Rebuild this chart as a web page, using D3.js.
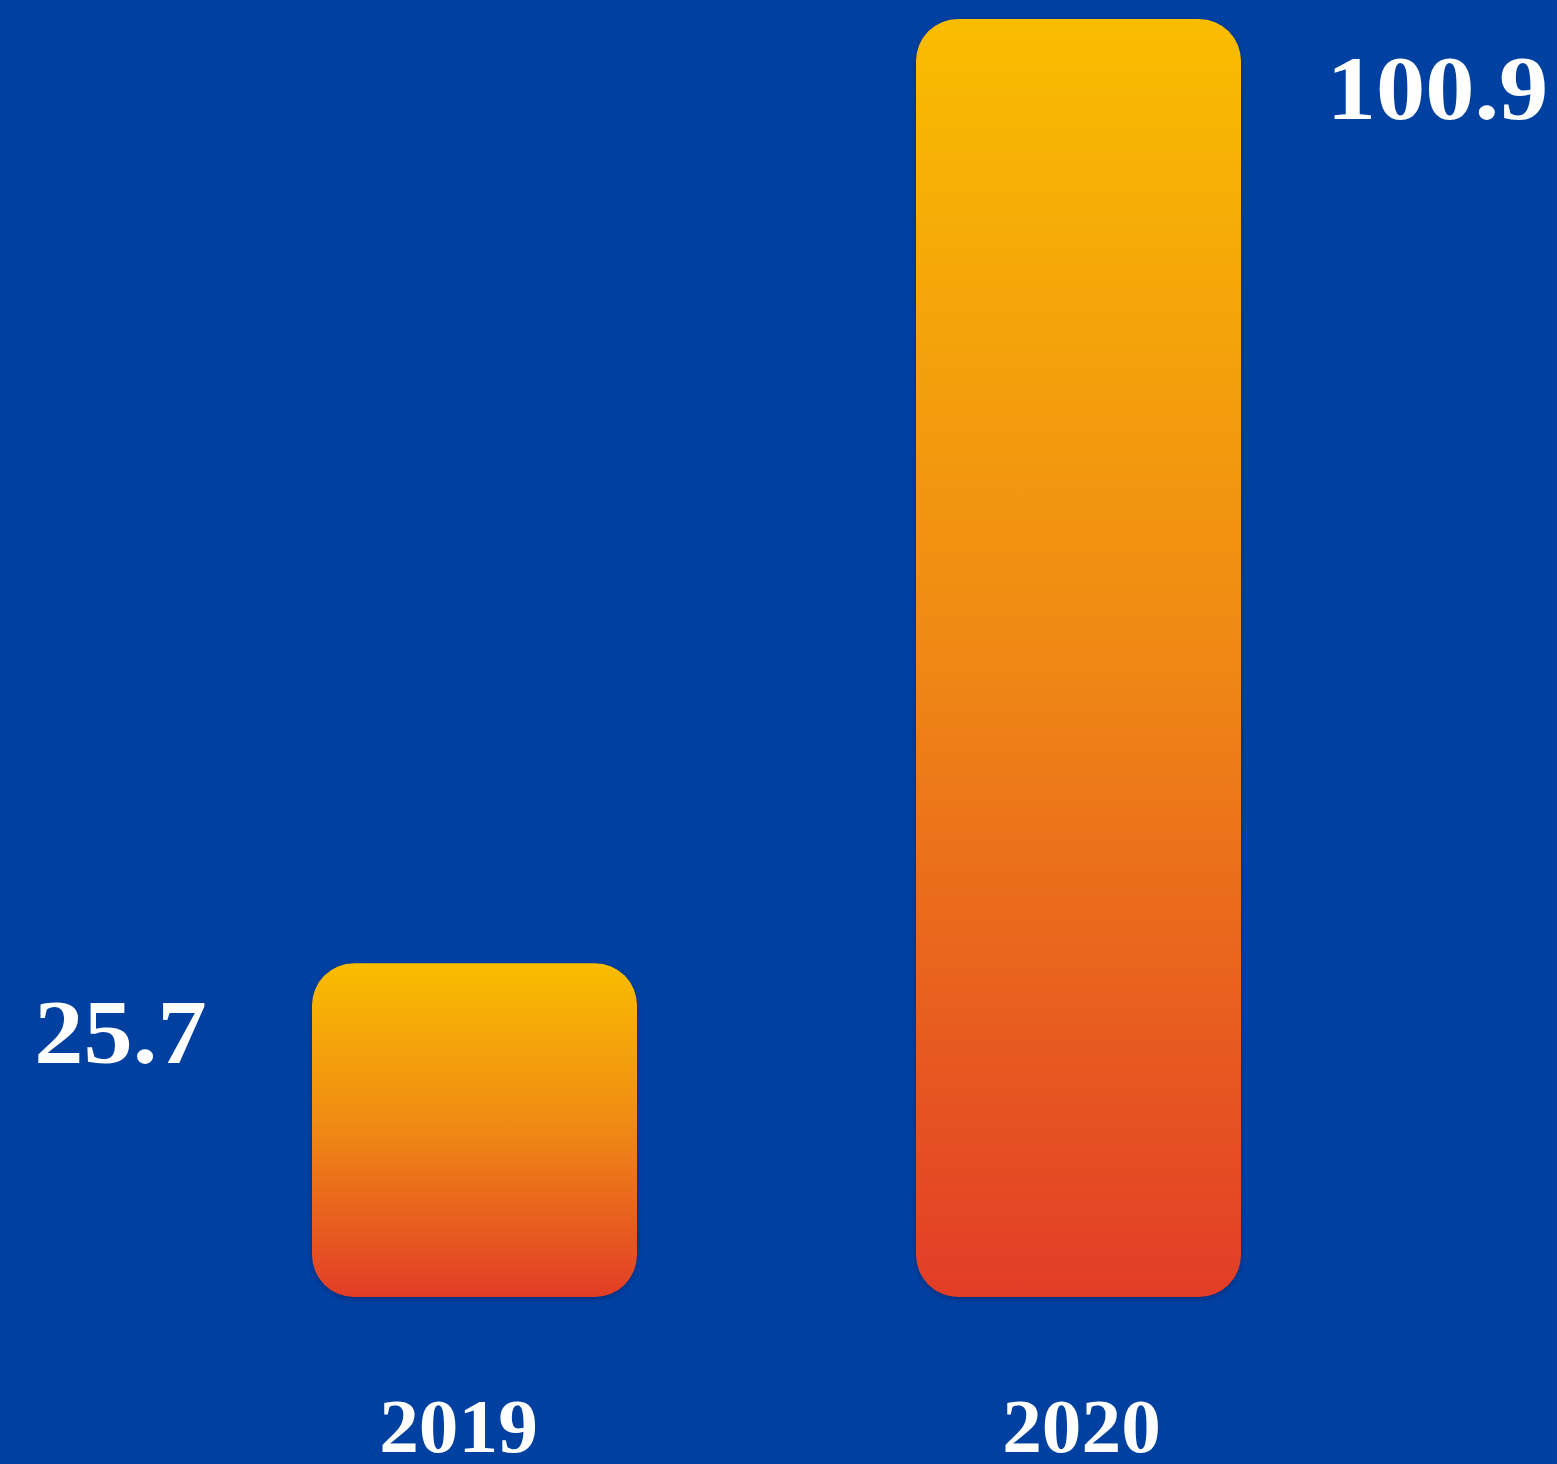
<!DOCTYPE html>
<html>
<head>
<meta charset="utf-8">
<script src="https://cdn.jsdelivr.net/npm/d3@7"></script>
<style>
html,body{margin:0;padding:0;background:#0040a0;}
svg{display:block;}
</style>
</head>
<body>
<script>
const categories = ["2019", "2020"];
const values = [25.7, 100.9];
const valueLabels = ["25.7", "100.9"];

const W = 1557, H = 1464;
const svg = d3.select("body").append("svg").attr("width", W).attr("height", H);
svg.append("rect").attr("width", W).attr("height", H).attr("fill", "#0040a0");

const defs = svg.append("defs");
const grad = defs.append("linearGradient").attr("id", "barGrad")
  .attr("x1", 0).attr("y1", 0).attr("x2", 0).attr("y2", 1);
grad.append("stop").attr("offset", "0%").attr("stop-color", "#f9bd00");
grad.append("stop").attr("offset", "50%").attr("stop-color", "#ef8814");
grad.append("stop").attr("offset", "100%").attr("stop-color", "#e23d27");

const f = defs.append("filter").attr("id", "blur").attr("x", "-10%").attr("y", "-10%").attr("width", "120%").attr("height", "120%");
f.append("feGaussianBlur").attr("stdDeviation", 2);

const x = d3.scaleBand().domain(categories).range([10, 1543])
  .paddingInner(1 - 325 / 604).paddingOuter(0.5);
const y = d3.scaleLinear().domain([0, 100.9]).range([1286, 19]);
const barBottom = y(0) + 11;

const data = categories.map((c, i) => ({c, v: values[i], label: valueLabels[i], i}));

svg.selectAll("rect.shadow").data(data).enter().append("rect")
  .attr("class", "shadow")
  .attr("x", d => x(d.c))
  .attr("y", d => y(d.v) + 2)
  .attr("width", x.bandwidth())
  .attr("height", d => barBottom - y(d.v))
  .attr("rx", 42).attr("ry", 42)
  .attr("fill", "#001a50").attr("opacity", 0.45)
  .attr("filter", "url(#blur)");

svg.selectAll("rect.bar").data(data).enter().append("rect")
  .attr("class", "bar")
  .attr("x", d => x(d.c))
  .attr("y", d => y(d.v))
  .attr("width", x.bandwidth())
  .attr("height", d => barBottom - y(d.v))
  .attr("rx", 42).attr("ry", 42)
  .attr("fill", "url(#barGrad)");

svg.selectAll("text.val").data(data).enter().append("text")
  .attr("class", "val")
  .attr("transform", d => `translate(${x(d.c) + x.bandwidth() / 2 + (d.i === 0 ? -354 : 359)},${y(d.v) + 100}) scale(1.07,1)`)
  .attr("text-anchor", "middle")
  .attr("font-family", "'Liberation Serif', serif")
  .attr("font-weight", "bold")
  .attr("font-size", 92)
  .attr("fill", "#ffffff")
  .text(d => d.label);

svg.selectAll("text.cat").data(data).enter().append("text")
  .attr("class", "cat")
  .attr("transform", d => `translate(${x(d.c) + x.bandwidth() / 2 + (d.i === 0 ? -16 : 3)},1452) scale(1.03,1)`)
  .attr("text-anchor", "middle")
  .attr("font-family", "'Liberation Serif', serif")
  .attr("font-weight", "bold")
  .attr("font-size", 77)
  .attr("fill", "#ffffff")
  .text(d => d.c);
</script>
</body>
</html>
